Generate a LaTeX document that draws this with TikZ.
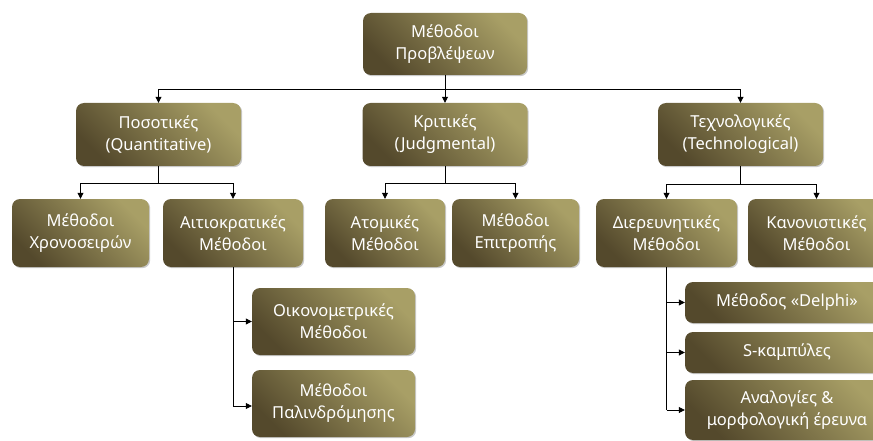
\documentclass[tikz,border=0pt]{standalone}
\usepackage{fontspec}
\setmainfont{Noto Sans}
\usetikzlibrary{arrows.meta,shadows}
\definecolor{boxdark}{HTML}{54492C}
\definecolor{boxlight}{HTML}{A89F66}
\tikzset{
  box/.style={rounded corners=8pt, draw=none,
    left color=boxdark, right color=boxlight, shading angle=135,
    drop shadow={shadow xshift=1.2pt, shadow yshift=-1.2pt, opacity=0.3, fill=black!70},
    text=white, align=center, inner sep=0pt,
    font=\fontsize{16.5}{22}\selectfont},
  link/.style={draw=black, line width=0.8pt},
  arr/.style={link, -{Triangle[length=6pt,width=6pt]}}
}
\newcommand{\boxat}[6]{% name, cx, cy, w, h, text
  \node[box, minimum width=#4pt, minimum height=#5pt] (#1) at (#2,#3) {#6};}
\begin{document}
\begin{tikzpicture}[x=1pt,y=-1pt]
\useasboundingbox (0,0) rectangle (873,441);
\clip (0,0) rectangle (873,441);
% level 0
\boxat{top}{445}{44}{164}{62}{Μέθοδοι\\Προβλέψεων}
% level 1
\boxat{quant}{158.5}{134.5}{165}{63}{Ποσοτικές\\(Quantitative)}
\boxat{judg}{445}{134.5}{165}{63}{Κριτικές\\(Judgmental)}
\boxat{tech}{740.5}{134.5}{165}{63}{Τεχνολογικές\\(Technological)}
% level 2
\boxat{ts}{80.5}{233}{137}{68}{Μέθοδοι\\Χρονοσειρών}
\boxat{causal}{233}{233}{140}{68}{Αιτιοκρατικές\\Μέθοδοι}
\boxat{indiv}{385}{233}{120}{68}{Ατομικές\\Μέθοδοι}
\boxat{comm}{515.5}{233}{127}{68}{Μέθοδοι\\Επιτροπής}
\boxat{explor}{666.5}{233}{141}{68}{Διερευνητικές\\Μέθοδοι}
\boxat{norm}{816.5}{233}{137}{68}{Κανονιστικές\\Μέθοδοι}
% level 3
\boxat{econ}{333.5}{321.5}{163}{67}{Οικονομετρικές\\Μέθοδοι}
\boxat{regr}{333.5}{403.5}{163}{67}{Μέθοδοι\\Παλινδρόμησης}
\boxat{delphi}{787}{302.5}{204}{41}{Μέθοδος «Delphi»}
\boxat{scurve}{787}{352.5}{204}{41}{S-καμπύλες}
\boxat{analog}{787}{410}{204}{60}{Αναλογίες \&\\μορφολογική έρευνα}
% junction points
\coordinate (j0) at (445,89);
\coordinate (j1) at (158.5,183);
\coordinate (j2) at (445,183);
\coordinate (j3) at (740.5,184);
\coordinate (c0) at (233,406);
\coordinate (e0) at (666.5,410);
% connectors
\draw[link] (top.south) -- (j0);
\draw[arr] (j0) -| (quant.north);
\draw[arr] (j0) -- (judg.north);
\draw[arr] (j0) -| (tech.north);
\draw[link] (quant.south) -- (j1);
\draw[arr] (j1) -| (ts.north);
\draw[arr] (j1) -| (causal.north);
\draw[link] (judg.south) -- (j2);
\draw[arr] (j2) -| (indiv.north);
\draw[arr] (j2) -| (comm.north);
\draw[link] (tech.south) -- (j3);
\draw[arr] (j3) -| (explor.north);
\draw[arr] (j3) -| (norm.north);
\draw[link] (causal.south) -- (c0);
\draw[arr] (causal.south |- econ.west) -- (econ.west);
\draw[arr] (c0) -- (c0 -| regr.west);
\draw[link] (explor.south) -- (e0);
\draw[arr] (explor.south |- delphi.west) -- (delphi.west);
\draw[arr] (explor.south |- scurve.west) -- (scurve.west);
\draw[arr] (e0) -- (analog.west);
\end{tikzpicture}
\end{document}
